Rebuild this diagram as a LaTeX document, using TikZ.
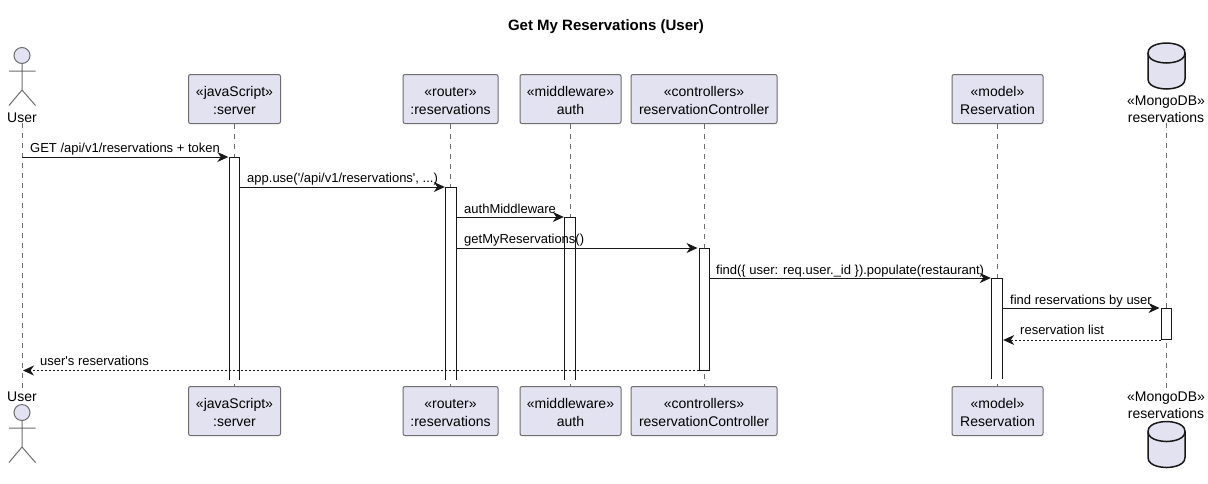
\documentclass[tikz,border=0pt]{standalone}
\usepackage{fontspec}
\setmainfont{Liberation Sans}
\usetikzlibrary{arrows.meta}
\definecolor{partfill}{HTML}{E2E2F0}
\definecolor{partline}{HTML}{6E6E6E}
\definecolor{inkdark}{HTML}{181818}
\tikzset{
  x=1pt,y=-1pt,
  part/.style={draw=partline,fill=partfill,line width=1pt,rounded corners=2pt,align=center,inner sep=0pt,
    font=\fontsize{14}{18}\selectfont,minimum height=49pt},
  lbl/.style={align=center,inner sep=0pt,font=\fontsize{14}{17.3}\selectfont},
  life/.style={draw=partline,line width=1pt,dash pattern=on 5pt off 5pt},
  act/.style={fill=white,inner sep=0pt,minimum width=10pt,anchor=north},
  actline/.style={draw=inkdark,line width=1pt},
  msg/.style={draw=inkdark,line width=1pt,-{Stealth[length=11pt,width=10pt,inset=3.5pt]},shorten >=1pt},
  ret/.style={msg,dash pattern=on 2pt off 2pt},
  msgtext/.style={anchor=base west,inner sep=0pt,font=\fontsize{13}{15}\selectfont},
  stick/.style={draw=partline,line width=1pt},
  dbline/.style={draw=inkdark,line width=1.5pt}
}
\newcommand{\stickman}[1]{%
  \draw[stick,fill=partfill] (22,#1) circle[radius=8];
  \draw[stick] (22,#1+8) -- (22,#1+34.5) (9,#1+15.5) -- (35.5,#1+15.5) (9,#1+50) -- (22,#1+34.5) -- (35.5,#1+50);
}
\newcommand{\dbshape}[1]{%
  \draw[dbline,fill=partfill] (1148,#1+10) .. controls (1148,#1) and (1166.5,#1) .. (1166.5,#1)
    .. controls (1166.5,#1) and (1185,#1) .. (1185,#1+10) -- (1185,#1+36)
    .. controls (1185,#1+46) and (1166.5,#1+46) .. (1166.5,#1+46)
    .. controls (1166.5,#1+46) and (1148,#1+46) .. (1148,#1+36) -- cycle;
  \draw[dbline] (1148,#1+10) .. controls (1148,#1+20) and (1166.5,#1+20) .. (1166.5,#1+20)
    .. controls (1166.5,#1+20) and (1185,#1+20) .. (1185,#1+10);
}
\newcommand{\openact}[1]{\draw[actline] (#1.south west) -- (#1.north west) -- (#1.north east) -- (#1.south east);}
\newcommand{\plabel}[2]{\rule{0pt}{13pt}#1\\#2}
\begin{document}
\begin{tikzpicture}
\useasboundingbox (0,0) rectangle (1208,483);
\fill[white] (0,0) rectangle (1208,483);
\node[font=\bfseries\fontsize{15}{17}\selectfont,inner sep=0pt] (title) at (606,27) {Get My Reservations (User)};

% actor and database
\stickman{55.5}
\stickman{412.5}
\dbshape{43}
\dbshape{421.5}
\node[lbl] (userT) at (22,118) {User};
\node[lbl] (userB) at (22,397) {User};
\node[lbl] (dbT) at (1166,109) {«MongoDB»\\reservations};
\node[lbl] (dbB) at (1166,405.5) {«MongoDB»\\reservations};

% participants
\node[part,minimum width=92pt] (serverT) at (234.5,99) {\plabel{«javaScript»}{:server}};
\node[part,minimum width=92pt] (serverB) at (234.5,411) {\plabel{«javaScript»}{:server}};
\node[part,minimum width=95pt] (routerT) at (450.5,99) {\plabel{«router»}{:reservations}};
\node[part,minimum width=95pt] (routerB) at (450.5,411) {\plabel{«router»}{:reservations}};
\node[part,minimum width=101pt] (authT) at (570.5,99) {\plabel{«middleware»}{auth}};
\node[part,minimum width=101pt] (authB) at (570.5,411) {\plabel{«middleware»}{auth}};
\node[part,minimum width=146pt] (ctrlT) at (704,99) {\plabel{«controllers»}{reservationController}};
\node[part,minimum width=146pt] (ctrlB) at (704,411) {\plabel{«controllers»}{reservationController}};
\node[part,minimum width=91pt] (modelT) at (997.5,99) {\plabel{«model»}{Reservation}};
\node[part,minimum width=91pt] (modelB) at (997.5,411) {\plabel{«model»}{Reservation}};

% lifelines
\draw[life] (userT.south) -- (userB.north);
\draw[life] (serverT.south) -- (serverB.north);
\draw[life] (routerT.south) -- (routerB.north);
\draw[life] (authT.south) -- (authB.north);
\draw[life] (ctrlT.south) -- (ctrlB.north);
\draw[life] (modelT.south) -- (modelB.north);
\draw[life] (dbT.south) -- (dbB.north);

% activations
\node[act,minimum height=223pt] (a1) at (234.5,157) {};
\node[act,minimum height=193pt] (a2) at (451,187) {};
\node[act,minimum height=163pt] (a3) at (570,217) {};
\node[act,minimum height=121.5pt,actline] (a4) at (704,248) {};
\node[act,minimum height=101pt] (a5) at (997,278) {};
\node[act,minimum height=31pt,actline] (a6) at (1166,308) {};
\openact{a1}
\openact{a2}
\openact{a3}
\openact{a5}

% messages
\draw[msg] (userT.south |- a1.north) -- (a1.north west);
\node[msgtext] at (30,152) {GET /api/v1/reservations + token};
\draw[msg] (a1.east |- a2.north) -- (a2.north west);
\node[msgtext] at (247,182) {app.use(\textquotesingle/api/v1/reservations\textquotesingle, ...)};
\draw[msg] (a2.east |- a3.north) -- (a3.north west);
\node[msgtext] at (464,213) {authMiddleware};
\draw[msg] (a2.east |- a4.north) -- (a4.north west);
\node[msgtext] at (464,243) {getMyReservations()};
\draw[msg] (a4.east |- a5.north) -- (a5.north west);
\node[msgtext] at (716,274) {find(\{ user: req.user.\_id \}).populate(restaurant)};
\draw[msg] (a5.east |- a6.north) -- (a6.north west);
\node[msgtext] at (1010,304) {find reservations by user};
\draw[ret] (a6.south west) -- (a5.east |- a6.south);
\node[msgtext] at (1020,334) {reservation list};
\draw[ret] (a4.south west) -- (userT.south |- a4.south);
\node[msgtext] at (40,365) {user\textquotesingle s reservations};
\end{tikzpicture}
\end{document}
